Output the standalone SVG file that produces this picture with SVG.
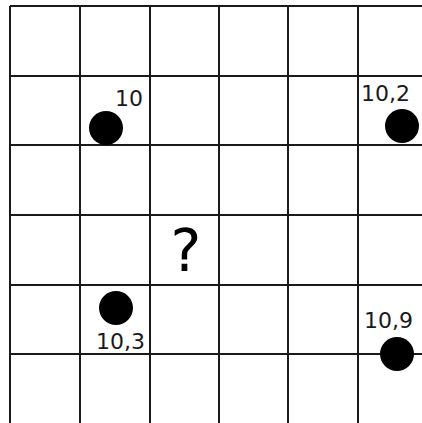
<svg xmlns="http://www.w3.org/2000/svg" width="422" height="423" viewBox="0 0 422 423">
<style>
.g{stroke:#1a1a1a;stroke-width:2;fill:none}
.d{fill:#000}
.t{font-family:"DejaVu Sans",sans-serif;font-size:22px;fill:#1a1a1a}
.q{font-family:"DejaVu Sans",sans-serif;font-size:58px;fill:#000}
</style>
<rect width="422" height="423" fill="#fff"/>
<g id="grid" class="g">
<path d="M10 6V423M80 6V423M150 6V423M219 6V423M288 6V423M358 6V423"/>
<path d="M10 6H422M10 76H422M10 145H422M10 215H422M10 285H422M10 354H422"/>
</g>
<g id="p1"><circle class="d" cx="106" cy="128" r="17"/><text class="t" x="115" y="106">10</text></g>
<g id="p2"><circle class="d" cx="402" cy="126" r="17"/><text class="t" x="361" y="101">10,2</text></g>
<g id="p3"><circle class="d" cx="116" cy="308" r="17"/><text class="t" x="96" y="349">10,3</text></g>
<g id="p4"><circle class="d" cx="397" cy="354" r="17"/><text class="t" x="364" y="328">10,9</text></g>
<g id="q"><text class="q" x="186" y="271" text-anchor="middle">?</text></g>
</svg>
